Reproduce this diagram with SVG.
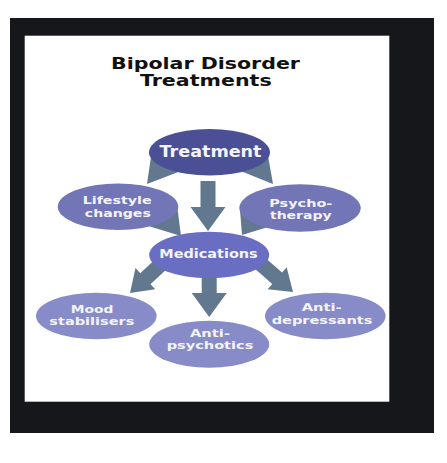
<svg xmlns="http://www.w3.org/2000/svg" width="447" height="463" viewBox="0 0 447 463">
<style>
.title{font-family:"DejaVu Sans",Verdana,sans-serif;font-weight:bold;font-size:15px;fill:#111;text-anchor:middle}
.lbl{font-family:"DejaVu Sans",Verdana,sans-serif;font-weight:bold;font-size:10.5px;fill:#f4f4fa;text-anchor:middle}
.one{font-size:12.5px}
.big{font-size:16px}
.arrow{fill:#62788e}
.n-top{fill:#4b5096}
.n-mid{fill:#7276b6}
.n-med{fill:#6a6ec2}
.n-low{fill:#878cc8}
</style>
<defs>
<polygon id="darr" points="-7.5,-50 7.5,-50 7.5,-24 17.5,-24 0,0 -17.5,-24 -7.5,-24"/>
<polygon id="diag" points="-7.5,-50 7.5,-50 7.5,-21 14.5,-21 0,0 -14.5,-21 -7.5,-21"/>
</defs>
<rect x="0" y="0" width="447" height="463" fill="#ffffff"/>
<rect x="10" y="18" width="424" height="415" fill="#16171b"/>
<rect x="24.7" y="35.7" width="364.6" height="366" fill="#ffffff"/>
<g id="title">
<text class="title" x="205.5" y="68.6" textLength="189" lengthAdjust="spacingAndGlyphs">Bipolar Disorder</text>
<text class="title" x="205.8" y="86.4" textLength="131.7" lengthAdjust="spacingAndGlyphs">Treatments</text>
</g>
<g id="connectors" class="arrow">
<polygon points="152,150 147,184 177,172.5 185,160"/>
<polygon points="267,150 273,184 243,172 235,160"/>
<use href="#darr" transform="translate(208,231)"/>
<polygon points="150,226.5 181,236 177,205 155,215"/>
<polygon points="240,210 242,235 268,227 255,215"/>
<use href="#diag" transform="translate(130,293) rotate(47)"/>
<use href="#darr" transform="translate(209.2,317)"/>
<use href="#diag" transform="translate(293,292) rotate(-49)"/>
</g>
<g id="node-treatment">
<ellipse class="n-top" cx="209.5" cy="152.3" rx="60.5" ry="23.3"/>
<text class="lbl big" x="210.5" y="156.7" textLength="102" lengthAdjust="spacingAndGlyphs">Treatment</text>
</g>
<g id="node-lifestyle">
<ellipse class="n-mid" cx="118" cy="206.7" rx="60.3" ry="23.3"/>
<text class="lbl" x="117.2" y="204.2" textLength="69" lengthAdjust="spacingAndGlyphs">Lifestyle</text>
<text class="lbl" x="117.8" y="216.5" textLength="66" lengthAdjust="spacingAndGlyphs">changes</text>
</g>
<g id="node-psychotherapy">
<ellipse class="n-mid" cx="300" cy="208" rx="60.7" ry="23.7"/>
<text class="lbl" x="300.8" y="206.6" textLength="63" lengthAdjust="spacingAndGlyphs">Psycho-</text>
<text class="lbl" x="300.8" y="218.9" textLength="61.7" lengthAdjust="spacingAndGlyphs">therapy</text>
</g>
<g id="node-medications">
<ellipse class="n-med" cx="209.2" cy="255" rx="60" ry="23.3"/>
<text class="lbl one" x="208.5" y="257.7" textLength="98.4" lengthAdjust="spacingAndGlyphs">Medications</text>
</g>
<g id="node-mood">
<ellipse class="n-low" cx="96.3" cy="316" rx="60.3" ry="23.3"/>
<text class="lbl" x="92" y="313.1" textLength="42.6" lengthAdjust="spacingAndGlyphs">Mood</text>
<text class="lbl" x="91.8" y="325.4" textLength="85" lengthAdjust="spacingAndGlyphs">stabilisers</text>
</g>
<g id="node-antipsychotics">
<ellipse class="n-low" cx="209.2" cy="344.2" rx="60" ry="23.5"/>
<text class="lbl" x="210" y="336.9" textLength="40" lengthAdjust="spacingAndGlyphs">Anti-</text>
<text class="lbl" x="210" y="349.2" textLength="86.7" lengthAdjust="spacingAndGlyphs">psychotics</text>
</g>
<g id="node-antidepressants">
<ellipse class="n-low" cx="325.3" cy="316" rx="60.3" ry="23.3"/>
<text class="lbl" x="321.7" y="311.3" textLength="40" lengthAdjust="spacingAndGlyphs">Anti-</text>
<text class="lbl" x="322" y="323.6" textLength="100.7" lengthAdjust="spacingAndGlyphs">depressants</text>
</g>
</svg>
